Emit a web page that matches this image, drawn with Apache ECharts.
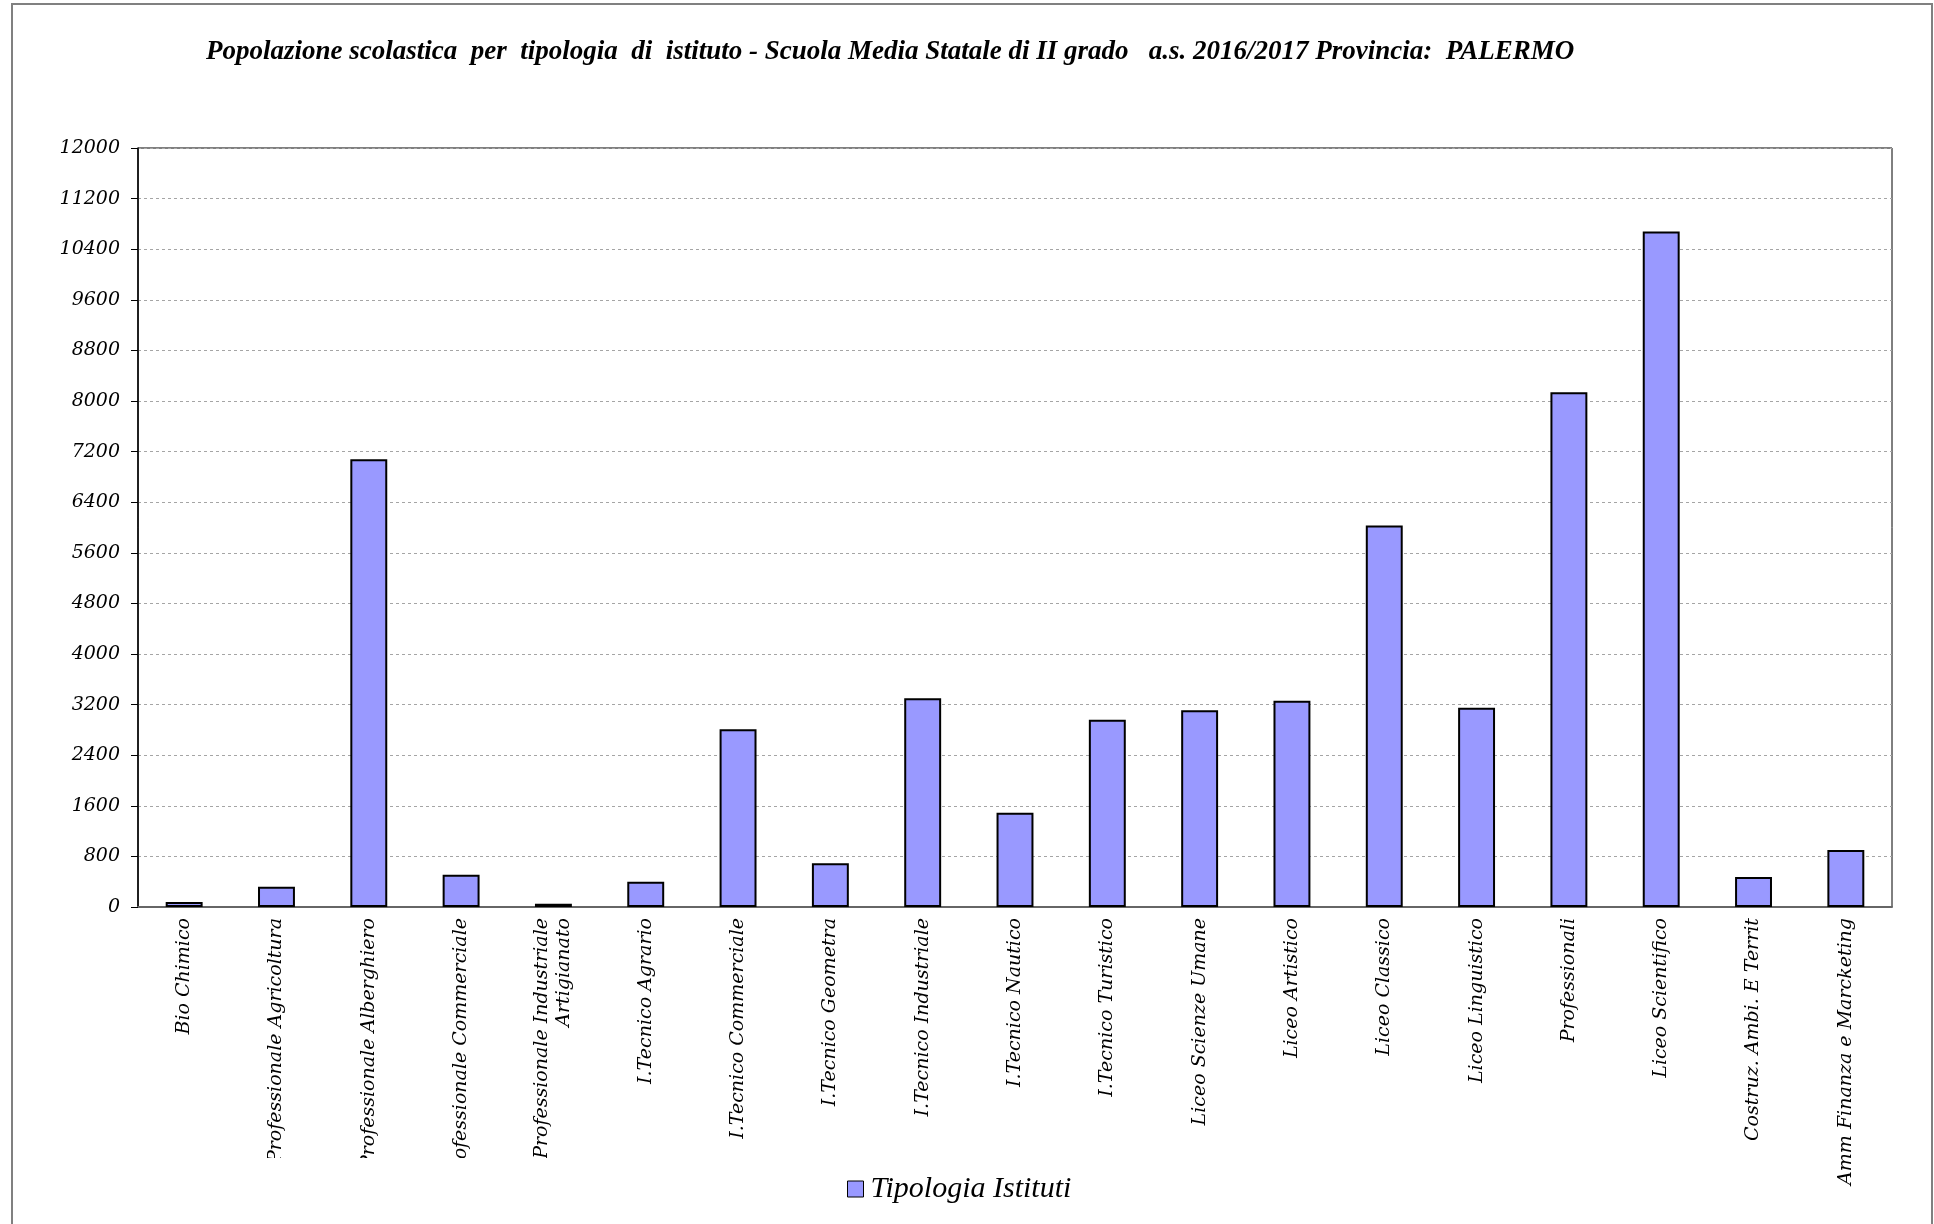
<!DOCTYPE html>
<html>
<head>
<meta charset="utf-8">
<script src="https://cdn.jsdelivr.net/npm/echarts@6/dist/echarts.min.js"></script>
<style>
html,body{margin:0;padding:0;background:#fff;}
#c{width:1934px;height:1224px;}
</style>
</head>
<body>
<div id="c"></div>
<script>
const categories = ['Bio Chimico', 'I. Professionale Agricoltura', 'I. Professionale Alberghiero', 'I. Professionale Commerciale', 'I.Professionale Industriale\nArtigianato', 'I.Tecnico Agrario', 'I.Tecnico Commerciale', 'I.Tecnico Geometra', 'I.Tecnico Industriale', 'I.Tecnico Nautico', 'I.Tecnico Turistico', 'Liceo Scienze Umane', 'Liceo Artistico', 'Liceo Classico', 'Liceo Linguistico', 'Professionali', 'Liceo Scientifico', 'Costruz. Ambi. E Territ', 'Amm Finanza e Marcketing'];
const values = [80, 320, 7080, 510, 50, 400, 2810, 690, 3300, 1490, 2960, 3110, 3260, 6030, 3150, 8140, 10680, 475, 900];
const seriesName = 'Tipologia Istituti';
const titleText = 'Popolazione scolastica  per  tipologia  di  istituto - Scuola Media Statale di II grado   a.s. 2016/2017 Provincia:  PALERMO';
const yMin = 0, yMax = 12000, yStep = 800;

const chart = echarts.init(document.getElementById('c'));
chart.setOption({
  backgroundColor: '#fff',
  animation: false,
  title: {
    text: titleText,
    left: 201, top: 34,
    textStyle: {fontFamily: 'Liberation Serif', fontStyle: 'italic', fontWeight: 'bold', fontSize: 27, color: '#000'}
  },
  legend: {
    data: [seriesName],
    left: 842, top: 1169,
    itemWidth: 16, itemHeight: 16,
    itemGap: 8,
    icon: 'rect',
    itemStyle: {borderColor: '#000', borderWidth: 1},
    textStyle: {fontFamily: 'Liberation Serif', fontStyle: 'italic', fontSize: 30, color: '#000', padding: [0, 0, 0, 2]}
  },
  grid: {
    left: 138, right: 42, top: 148, bottom: 317,
    show: true, borderColor: '#000', borderWidth: 1, backgroundColor: 'transparent'
  },
  xAxis: {
    type: 'category',
    data: categories,
    axisLine: {lineStyle: {color: '#666', width: 2}},
    axisTick: {show: false},
    axisLabel: {
      rotate: 90, interval: 0, margin: 11,
      fontFamily: 'DejaVu Serif', fontStyle: 'italic', fontSize: 19, color: '#000', lineHeight: 22
    }
  },
  yAxis: {
    type: 'value',
    min: yMin, max: yMax, interval: yStep,
    axisLine: {show: true, lineStyle: {color: '#000', width: 1.5}},
    axisTick: {show: true, length: 7, lineStyle: {color: '#000'}},
    axisLabel: {fontFamily: 'DejaVu Serif', fontStyle: 'italic', fontSize: 19, color: '#000', margin: 18,
      formatter: function (v) { return String(v); }},
    splitLine: {show: true, lineStyle: {color: '#a5a5a5', width: 1, type: [3, 3]}}
  },
  series: [{
    name: seriesName,
    type: 'bar',
    data: values,
    barWidth: '40%',
    itemStyle: {color: '#9999ff', borderColor: '#000', borderWidth: 2}
  }],
  graphic: [
    {type: 'rect', z: 100, silent: true, shape: {x: 230, y: 1158, width: 390, height: 66}, style: {fill: '#fff'}},
    {type: 'rect', z: 101, silent: true, shape: {x: 12, y: 4, width: 1920, height: 1240}, style: {fill: 'none', stroke: '#808080', lineWidth: 2}}
  ]
});
</script>
</body>
</html>
